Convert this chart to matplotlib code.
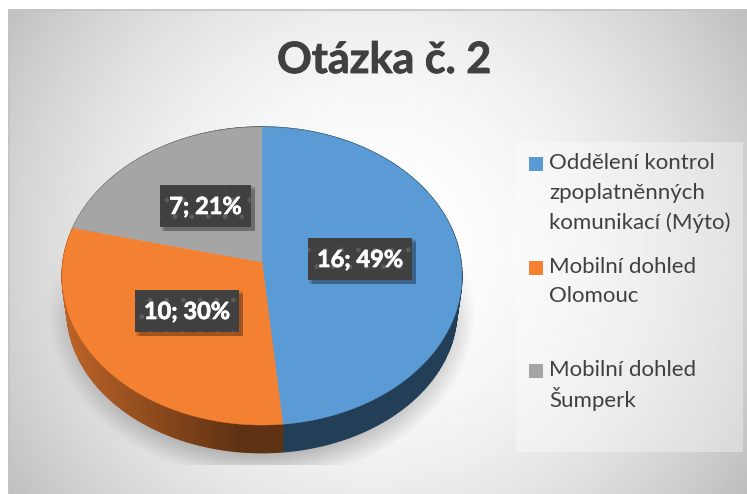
import numpy as np
import matplotlib
matplotlib.use('Agg')
import matplotlib.pyplot as plt
import matplotlib.patheffects as pe
from matplotlib.collections import PolyCollection
from matplotlib.patches import Polygon, Rectangle

plt.rcParams['font.family'] = ['Lato', 'DejaVu Sans']

title = 'Otázka č. 2'
values = [16, 10, 7]
percents = [49, 30, 21]
colors = ['#5b9bd5', '#f48032', '#a5a5a5']
legend_lines = [
    ['Oddělení kontrol', 'zpoplatněnných', 'komunikací (Mýto)'],
    ['Mobilní dohled', 'Olomouc'],
    ['Mobilní dohled', 'Šumperk'],
]
legend_y = [[163, 193, 223], [267, 296], [370, 399]]
label_boxes = [(308, 238, 104, 42), (135, 290, 104, 42), (160, 185, 91, 42)]

W, H = 747, 494
CX, CY = 262, 262
BOTTOM_CY = 297


def project(theta, rx=199, ry=147.7, cy=CY, p=0.094):
    # theta clockwise from the top of the pie, simple perspective
    u = np.sin(theta)
    v = np.cos(theta)
    f = 1 / (1 + p * v)
    return CX + rx * u * f, cy - ry * v * f


fig = plt.figure(figsize=(W / 100, H / 100), dpi=100)
ax = fig.add_axes([0, 0, 1, 1])
ax.set_xlim(0, W)
ax.set_ylim(H, 0)
ax.axis('off')

# background with radial gradient and pie shadow
yy, xx = np.mgrid[0:H, 0:W] + 0.5
r = np.hypot(xx - 375, yy - 250)
bg = 255 - 63 * (r / 437) ** 2
d = np.hypot((xx - 262) / 214, (yy - 312) / 168)
shadow = 0.3 * np.clip((1.0 - d) / 0.2, 0, 1)
shadow *= np.clip((yy - 250) / 70, 0, 1)
shadow[yy > 465] = 0
bg = bg * (1 - shadow)
img = np.clip(bg, 0, 255) / 255
ax.imshow(img[10:, 8:], extent=(8, W, H, 10), cmap='gray', vmin=0, vmax=1,
          aspect='auto', zorder=0, interpolation='bilinear')
ax.set_xlim(0, W)
ax.set_ylim(H, 0)
ax.plot([8.5, 8.5, W], [H, 10.5, 10.5], color='#c4c4c4', lw=1.2, zorder=1)

# side wall of the pie
edges = np.cumsum([0] + values) / sum(values) * 2 * np.pi
wall_polys, wall_cols = [], []
for i, col in enumerate(colors):
    th = np.linspace(edges[i], edges[i + 1], 160)
    base = np.array(matplotlib.colors.to_rgb(col))
    for a, b in zip(th[:-1], th[1:]):
        x0, y0 = project(a)
        x1, y1 = project(b)
        x2, y2 = project(b, rx=194, ry=141, cy=BOTTOM_CY)
        x3, y3 = project(a, rx=194, ry=141, cy=BOTTOM_CY)
        wall_polys.append([(x0, y0), (x1, y1), (x2, y2), (x3, y3)])
        if i == 0:
            wall_cols.append((0.137, 0.247, 0.345))
        else:
            t = np.clip((x0 - 70) / 170, 0, 1)
            wall_cols.append(tuple(base * (0.76 - 0.37 * t)))
ax.add_collection(PolyCollection(wall_polys, facecolors=wall_cols,
                                 edgecolors=wall_cols, linewidths=1.0, zorder=2))

# top surface
for i, col in enumerate(colors):
    th = np.linspace(edges[i], edges[i + 1], 240)
    px, py = project(th)
    pts = np.column_stack([np.r_[CX, px], np.r_[CY, py]])
    ax.add_patch(Polygon(pts, closed=True, facecolor=col, edgecolor=col, lw=0.3, zorder=3))

# data labels
for (bx, by, bw, bh), v, pc in zip(label_boxes, values, percents):
    for k in range(5):
        ax.add_patch(Rectangle((bx + 1 + k, by + 1 + k), bw + 3 - k, bh + 3 - k,
                               facecolor='black', edgecolor='none', alpha=0.08, zorder=4))
    ax.add_patch(Rectangle((bx, by), bw, bh, facecolor='#404040', edgecolor='#5c5c5c',
                           hatch='.', lw=0, zorder=5))
    ax.text(bx + bw / 2, by + bh / 2 + 0.5, f'{v}; {pc}%', color='white', fontsize=17,
            fontweight='bold', ha='center', va='center', zorder=6,
            path_effects=[pe.withStroke(linewidth=0.5, foreground='white')])

ax.text(384, 60, title, color='#404040', fontsize=31, fontweight='bold',
        ha='center', va='center', zorder=6,
        path_effects=[pe.withStroke(linewidth=0.6, foreground='#404040')])

# legend
ax.add_patch(Rectangle((516, 142), 227, 310, facecolor='white', edgecolor='none',
                       alpha=0.35, zorder=4))
for col, lines, ys in zip(colors, legend_lines, legend_y):
    ax.add_patch(Rectangle((529, ys[0] - 6.5), 14, 14, facecolor=col, edgecolor='none', zorder=5))
    for line, y in zip(lines, ys):
        ax.text(549, y, line, color='#404040', fontsize=16, ha='left', va='center', zorder=6)

fig.savefig('out.png', dpi=100, facecolor='white')
